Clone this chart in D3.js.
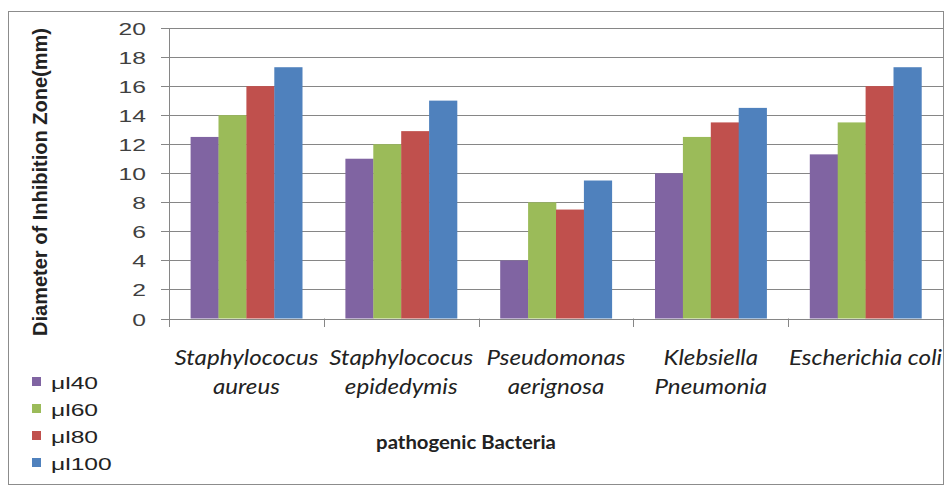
<!DOCTYPE html>
<html><head><meta charset="utf-8">
<script src="https://cdn.jsdelivr.net/npm/d3@7"></script>
<style>body{margin:0;background:#fff}svg{display:block}</style>
</head><body>
<svg id="c" width="946" height="487"></svg>
<script>
const categories = [["Staphylococus","aureus"],["Staphylococus","epidedymis"],["Pseudomonas","aerignosa"],["Klebsiella","Pneumonia"],["Escherichia coli"]];
const seriesNames = ["μl40","μl60","μl80","μl100"];
const ul40  = [12.5, 11, 4, 10, 11.3];
const ul60  = [14, 12, 8, 12.5, 13.5];
const ul80  = [16, 12.9, 7.5, 13.5, 16];
const ul100 = [17.3, 15, 9.5, 14.5, 17.3];
const yTicks = [0,2,4,6,8,10,12,14,16,18,20];
const colors = ["#8064A2","#9BBB59","#C0504D","#4F81BD"];
const series = [ul40, ul60, ul80, ul100];

const SX = 1.45; // horizontal stretch of the reference image's text

const svg = d3.select("#c");
svg.append("rect").attr("x",8.5).attr("y",11.5).attr("width",935).attr("height",473)
  .attr("fill","#fff").attr("stroke","#8c8c8c");

const catKeys = categories.map((c,i)=>i);
const x = d3.scaleBand().domain(catKeys).range([169,943]).paddingInner(0.279).paddingOuter(0.1395);
const xs = d3.scaleBand().domain(d3.range(series.length)).range([0,x.bandwidth()]);
const y = d3.scaleLinear().domain([0,20]).range([318.5,28]);

// gridlines
svg.append("g").selectAll("line").data(yTicks).join("line")
  .attr("x1",161).attr("x2",943).attr("y1",d=>Math.round(y(d))+0.5).attr("y2",d=>Math.round(y(d))+0.5)
  .attr("stroke","#868686").attr("stroke-width",1);

// y tick labels via axis
const gy = svg.append("g").attr("transform","translate(169,0)")
  .call(d3.axisLeft(y).tickValues(yTicks).tickSize(0).tickFormat(d3.format("d")));
gy.select(".domain").remove();
gy.selectAll(".tick").attr("transform",d=>`translate(0,${Math.round(y(d))+0.5})`);
gy.selectAll(".tick text").attr("font-family","Liberation Sans, Arial, sans-serif").attr("font-size",17)
  .attr("fill","#404040").attr("x",-23/SX).attr("dy","0.36em").attr("transform",`scale(${SX},1)`);

// bars
const g = svg.append("g");
catKeys.forEach(ci=>{
  series.forEach((s,si)=>{
    g.append("rect").attr("x",x(ci)+xs(si)).attr("y",y(s[ci])).attr("width",xs.bandwidth()+0.3)
     .attr("height",y(0)-y(s[ci])).attr("fill",colors[si]);
  });
});

// axes lines
svg.append("line").attr("x1",169.5).attr("x2",169.5).attr("y1",28).attr("y2",327).attr("stroke","#868686");
const bounds = catKeys.map(i=>x(i)-x.step()*x.paddingInner()/2).concat([943]);
svg.append("g").selectAll("line").data(bounds).join("line")
  .attr("x1",d=>Math.round(d)+0.5).attr("x2",d=>Math.round(d)+0.5).attr("y1",318.5).attr("y2",327).attr("stroke","#868686");

// category labels
const CS = 1.15;
const cl = svg.append("g").attr("font-family","Lato, 'Open Sans', sans-serif").attr("font-style","italic")
  .attr("font-size",21).attr("fill","#222").attr("text-anchor","middle");
categories.forEach((lines,i)=>{
  lines.forEach((t,j)=>{
    cl.append("text").attr("transform",`translate(${x(i)+x.bandwidth()/2},${365+j*29}) scale(${CS},1)`).text(t);
  });
});

// axis titles
svg.append("text").attr("transform","translate(466,449) scale(1.13,1)").attr("text-anchor","middle")
  .attr("font-family","Lato, 'Open Sans', sans-serif").attr("font-weight","bold").attr("font-size",18).attr("fill","#222")
  .text("pathogenic Bacteria");
svg.append("text").attr("transform","translate(47,182) rotate(-90) scale(1,1.4)").attr("text-anchor","middle")
  .attr("font-family","Liberation Sans, Arial, sans-serif").attr("font-weight","bold").attr("font-size",15).attr("fill","#222")
  .attr("textLength",308).attr("lengthAdjust","spacingAndGlyphs")
  .text("Diameter of Inhibition Zone(mm)");

// legend
const lg = svg.append("g");
seriesNames.forEach((n,i)=>{
  lg.append("rect").attr("x",32).attr("y",377+i*27).attr("width",9).attr("height",9).attr("fill",colors[i]);
  lg.append("text").attr("transform",`translate(51,388.5) translate(0,${i*27}) scale(${SX},1)`)
    .attr("font-family","Liberation Sans, Arial, sans-serif")
    .attr("font-size",17).attr("fill","#222").text(n);
});
</script>
</body></html>
